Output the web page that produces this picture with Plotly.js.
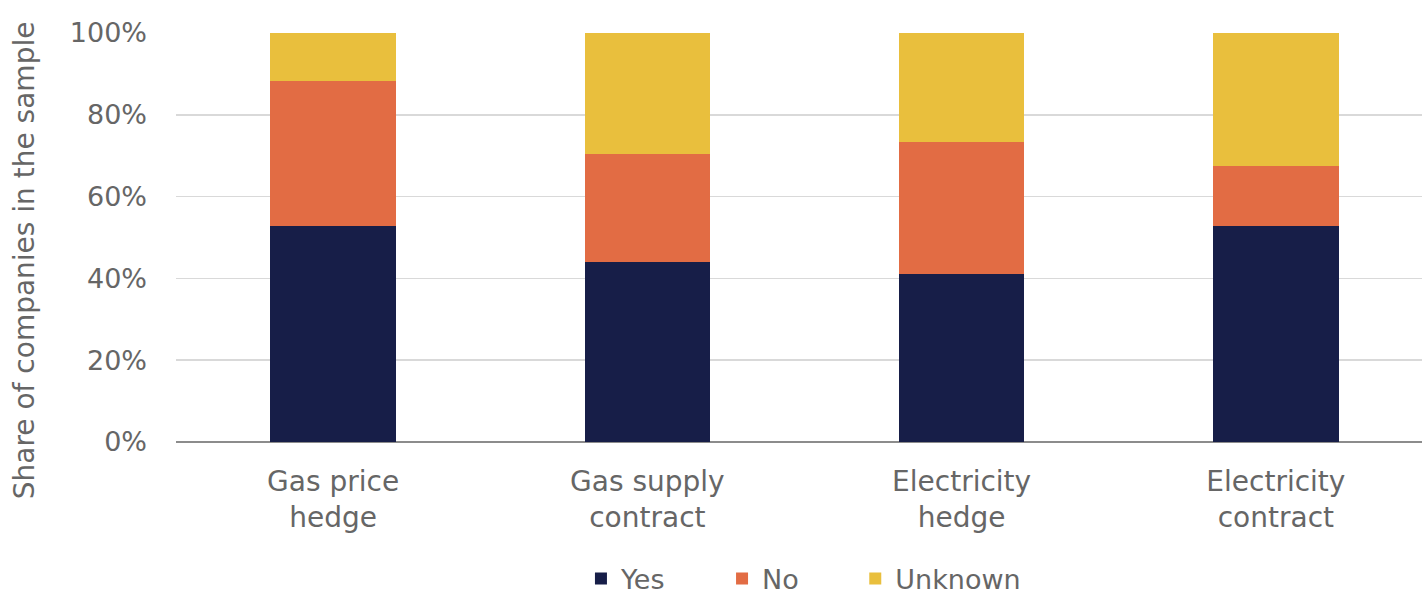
<!DOCTYPE html>
<html><head><meta charset="utf-8">
<script src="https://cdn.plot.ly/plotly-3.0.1.min.js"></script>
<style>html,body{margin:0;padding:0;background:#fff}#chart{width:1422px;height:596px}</style>
</head><body><div id="chart"></div>
<script>
const categories = ["Gas price<br>hedge", "Gas supply<br>contract", "Electricity<br>hedge", "Electricity<br>contract"];
const seriesNames = ["Yes", "No", "Unknown"];
const yesValues = [52.8, 43.9, 41.0, 52.8];
const noValues = [35.5, 26.5, 32.4, 14.8];
const unknownValues = [11.7, 29.6, 26.6, 32.4];
const tickValues = [0, 20, 40, 60, 80, 100];
const tickLabels = ["0%", "20%", "40%", "60%", "80%", "100%"];
const yTitle = "Share of companies in the sample";

const font = "DejaVu Sans, sans-serif";
const grey = "#666666";
const pad = "\u00a0\u00a0\u00a0\u00a0\u00a0\u00a0";
function tr(name, vals, color) {
  return {type: "bar", name: name, x: categories, y: vals, marker: {color: color, line: {width: 0}}, hoverinfo: "skip"};
}
const data = [
  tr(seriesNames[0] + pad, yesValues, "#171E48"),
  tr(seriesNames[1] + pad, noValues, "#E26C44"),
  tr(seriesNames[2], unknownValues, "#E9BF3D")
];
const layout = {
  width: 1422, height: 596,
  margin: {l: 176, r: 0, t: 33, b: 154, pad: 0, autoexpand: false},
  barmode: "stack", bargap: 0.6,
  paper_bgcolor: "#fff", plot_bgcolor: "#fff",
  font: {family: font, color: grey, size: 27},
  xaxis: {type: "category", range: [-0.5, 3.465], tickfont: {size: 28, color: grey},
    showgrid: false, showline: false, ticks: "", zeroline: false, fixedrange: true,
    ticklabelstandoff: 20, automargin: false},
  yaxis: {range: [0, 100], tickvals: tickValues, ticktext: tickLabels, automargin: false,
    tickfont: {size: 27, color: grey}, showgrid: true, gridcolor: "#D9D9D9", gridwidth: 1.5,
    zeroline: true, zerolinecolor: "#8C8C8C", zerolinewidth: 1.5, showline: false, ticks: "",
    ticklabelstandoff: 28},
  annotations: [{text: yTitle, xref: "paper", yref: "paper", x: -0.121, y: 0.445,
    xanchor: "center", yanchor: "middle", textangle: -90, showarrow: false,
    font: {size: 28, color: grey, family: font}}],
  showlegend: true,
  legend: {orientation: "h", x: 0.325, xanchor: "left", y: -0.335, yanchor: "middle",
    font: {size: 27, color: grey}, itemwidth: 30, traceorder: "normal", itemclick: false},
};
Plotly.newPlot("chart", data, layout, {displayModeBar: false, staticPlot: true});
</script></body></html>
